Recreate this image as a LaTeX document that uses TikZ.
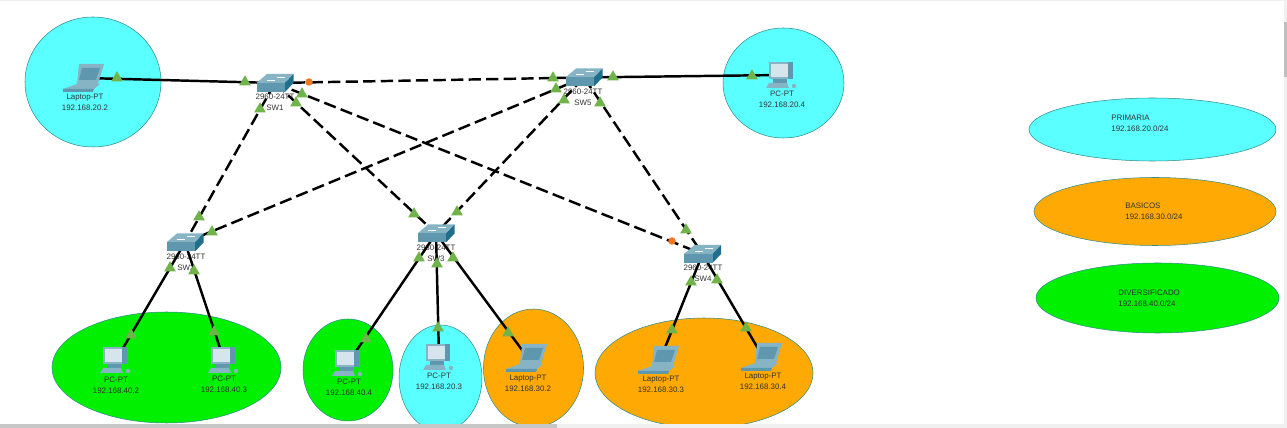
\documentclass[tikz,border=0pt]{standalone}
\usepackage{fontspec}
\setmainfont{Liberation Sans}
\usepackage{tikz}
\usetikzlibrary{shapes.geometric, positioning}
\definecolor{zonecyan}{HTML}{5AFFFF}
\definecolor{zoneorange}{HTML}{FFA904}
\definecolor{zonegreen}{HTML}{00F000}
\definecolor{linkgreen}{HTML}{70B34A}
\definecolor{linkorange}{HTML}{F5791F}
\definecolor{iconlight}{HTML}{86B4C4}
\definecolor{iconmid}{HTML}{5E97AE}
\definecolor{icondark}{HTML}{1F6F8C}
\definecolor{iconscreen}{HTML}{D6E4EC}
\tikzstyle{zone} = [draw=black!45!zonecyan, line width=0.3pt]
\tikzstyle{lab} = [align=center, inner sep=0pt, text=black!80, font=\fontsize{4.5}{6.1}\selectfont]
\tikzstyle{leg} = [lab, align=left, anchor=west]
\tikzstyle{hub} = [inner sep=0pt, minimum size=0pt]
\tikzstyle{wire} = [line width=1.4pt, black]
\tikzstyle{trunk} = [line width=1.4pt, black, dash pattern=on 7pt off 3pt]
\tikzstyle{up} = [regular polygon, regular polygon sides=3, inner sep=0pt, minimum size=0.27cm, fill=linkgreen]
\tikzstyle{wait} = [circle, inner sep=0pt, minimum size=0.15cm, fill=linkorange]
\tikzset{
  switchicon/.pic={
    \fill [iconlight] (-18.5,0) -- (-8,-9) -- (18.5,-9) -- (10,0) -- cycle;
    \fill [icondark] (10,0) -- (18.5,-9) -- (18.5,0) -- (10,9) -- cycle;
    \fill [iconmid] (-18.5,0) rectangle (10,9);
    \draw [white, line width=0.4pt] (-8,-3) -- (0,-3) (2,-6) -- (10,-6);
  },
  laptopicon/.pic={
    \fill [iconlight] (-6,-14) -- (19,-14) -- (13,6) -- (-8,6) -- cycle;
    \fill [iconmid] (-3,-10) -- (15,-10) -- (11,2) -- (-6,2) -- cycle;
    \fill [iconlight] (-8,6) -- (15,6) -- (9,11) -- (-22,11) -- cycle;
    \fill [iconmid] (-22,11) -- (9,11) -- (8,14) -- (-22,14) -- cycle;
  },
  pcicon/.pic={
    \fill [iconlight] (-13,-13) rectangle (6,4);
    \fill [iconmid] (6,-13) rectangle (11,4);
    \fill [iconscreen] (-11,-11) rectangle (6,2);
    \fill [iconmid] (-9,4) rectangle (5,8);
    \fill [iconlight] (-13,8) -- (5,8) -- (7,13) -- (-16,13) -- cycle;
    \fill [iconlight] (12,11) circle (2.2);
  }
}

\begin{document}
\begin{tikzpicture}[x=0.02cm, y=-0.02cm]

    \useasboundingbox (0,0) rectangle (1287,428);
    \fill [white] (0,0) rectangle (1287,428);

    % coloured areas
    \draw [zone, fill=zonecyan] (93,82) ellipse (68 and 65);
    \draw [zone, fill=zonecyan] (783.5,83) ellipse (60.5 and 55);
    \draw [zone, fill=zonegreen] (166.5,367.5) ellipse (114.5 and 55.5);
    \draw [zone, fill=zonegreen] (348,370) ellipse (45 and 51);
    \draw [zone, fill=zonecyan] (440.5,378) ellipse (41.5 and 53);
    \draw [zone, fill=zoneorange] (533.5,368) ellipse (50 and 59);
    \draw [zone, fill=zoneorange] (704,373) ellipse (109 and 55);
    \draw [zone, fill=zonecyan] (1152.5,129.5) ellipse (123.5 and 31.5);
    \draw [zone, fill=zoneorange] (1155,211.5) ellipse (121 and 34);
    \draw [zone, fill=zonegreen] (1157.5,298) ellipse (121.5 and 35);

    % devices
    \node (sw1) [hub] at (275,83) {};
    \node (sw2) [hub] at (185,242.5) {};
    \node (sw3) [hub] at (436,233.5) {};
    \node (sw4) [hub] at (702.5,254) {};
    \node (sw5) [hub] at (584,77.5) {};
    \node (lap1) [hub] at (85,78) {};
    \node (lap2) [hub] at (528,358) {};
    \node (lap3) [hub] at (660,360) {};
    \node (lap4) [hub] at (763,357) {};
    \node (pc1) [hub] at (116,360) {};
    \node (pc2) [hub] at (224,360) {};
    \node (pc3) [hub] at (348,363) {};
    \node (pc4) [hub] at (439,357) {};
    \node (pc5) [hub] at (782,75) {};

    % labels
    \node (sw1lab) [lab] at (275,102.5) {2960-24TT\\SW1};
    \node (sw2lab) [lab] at (186,262) {2960-24TT\\SW2};
    \node (sw3lab) [lab] at (436,253) {2960-24TT\\SW3};
    \node (sw4lab) [lab] at (703,273.5) {2960-24TT\\SW4};
    \node (sw5lab) [lab] at (583,97) {2960-24TT\\SW5};
    \node (lap1lab) [lab] at (85,102.5) {Laptop-PT\\192.168.20.2};
    \node (lap2lab) [lab] at (528,383) {Laptop-PT\\192.168.30.2};
    \node (lap3lab) [lab] at (661,384.5) {Laptop-PT\\192.168.30.3};
    \node (lap4lab) [lab] at (763,381.5) {Laptop-PT\\192.168.30.4};
    \node (pc1lab) [lab] at (116,385) {PC-PT\\192.168.40.2};
    \node (pc2lab) [lab] at (224,384.5) {PC-PT\\192.168.40.3};
    \node (pc3lab) [lab] at (349,387.5) {PC-PT\\192.168.40.4};
    \node (pc4lab) [lab] at (439,381) {PC-PT\\192.168.20.3};
    \node (pc5lab) [lab] at (782,99.5) {PC-PT\\192.168.20.4};
    \node (leg1) [leg] at (1111,123.5) {PRIMARIA\\192.168.20.0/24};
    \node (leg2) [leg] at (1125,211) {BASICOS\\192.168.30.0/24};
    \node (leg3) [leg] at (1118,298.5) {DIVERSIFICADO\\192.168.40.0/24};

    % links
    \draw [wire] (lap1) -- (sw1);
    \draw [wire] (sw5) -- (pc5);
    \draw [wire] (sw2) -- (pc1);
    \draw [wire] (sw2) -- (pc2);
    \draw [wire] (sw3) -- (pc3);
    \draw [wire] (sw3) -- (pc4);
    \draw [wire] (sw3) -- (lap2);
    \draw [wire] (sw4) -- (lap3);
    \draw [wire] (sw4) -- (lap4);
    \draw [trunk] (sw1) -- (sw5);
    \draw [trunk] (sw1) -- (sw2);
    \draw [trunk] (sw1) -- (sw3);
    \draw [trunk] (sw1) -- (sw4);
    \draw [trunk] (sw5) -- (sw2);
    \draw [trunk] (sw5) -- (sw3);
    \draw [trunk] (sw5) -- (sw4);

    % icons over the links
    \foreach \n in {sw1, sw2, sw3, sw4, sw5}
        \pic at (\n) {switchicon};
    \foreach \n in {lap1, lap2, lap3, lap4}
        \pic at (\n) {laptopicon};
    \foreach \n in {pc1, pc2, pc3, pc4, pc5}
        \pic at (\n) {pcicon};

    % link lights
    \foreach \i/\x/\y in {1/117/78, 2/245/82, 3/260/109, 4/296/103, 5/302/94, 6/553/78, 7/556/89,
        8/564/100, 9/600/103, 10/613/77, 11/752/76, 12/199/217, 13/212/232, 14/170/268, 15/194/271,
        16/414/214, 17/457/212, 18/419/258, 19/437/264, 20/453/258, 21/131/335, 22/214/332,
        23/366/339, 24/438/328, 25/508/333, 26/686/230, 27/691/282, 28/717/280, 29/672/330, 30/746/328}
        \node (up\i) [up] at (\x,\y) {};
    \node (wait1) [wait] at (309,82) {};
    \node (wait2) [wait] at (672,241) {};

    % window edges
    \fill [black!22] (0,424) rectangle (557,428);
    \fill [black!6] (557,424) rectangle (1287,428);
    \fill [black!6] (1284,0) rectangle (1287,424);
    \fill [black!25] (1284,22) rectangle (1287,77);
    \fill [black!6] (0,0) rectangle (1284,1);

\end{tikzpicture}
\end{document}
